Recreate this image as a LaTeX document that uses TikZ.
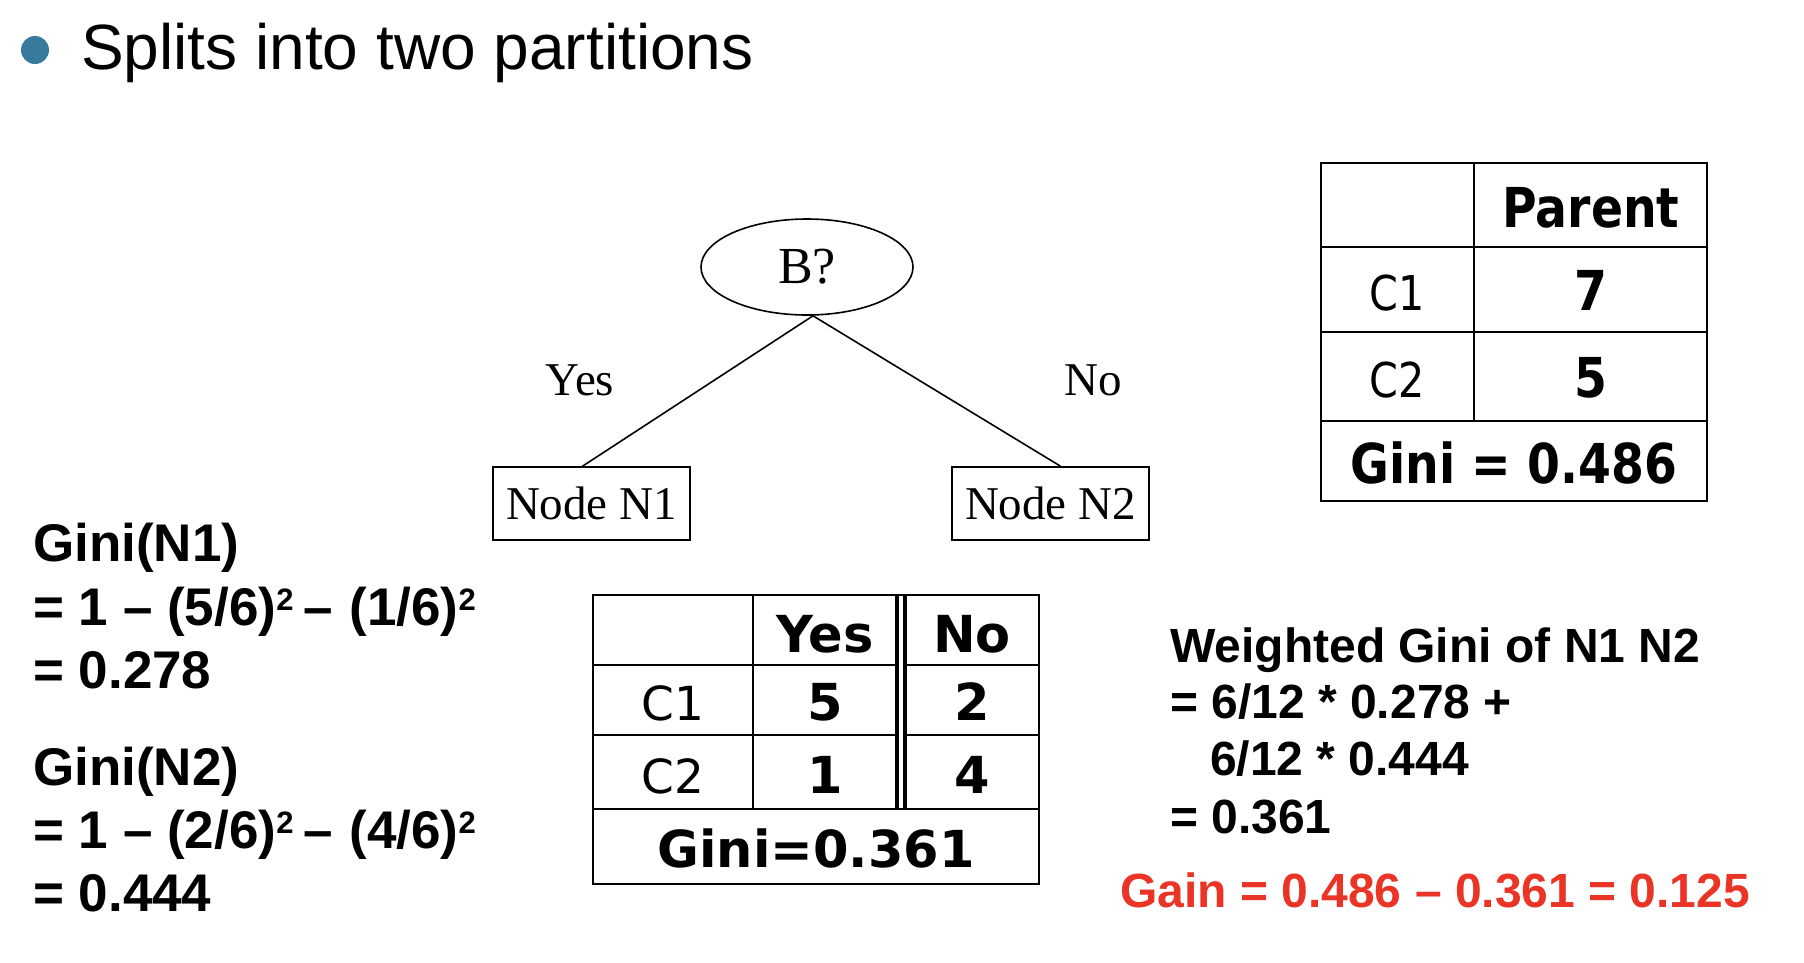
\documentclass[tikz,border=0pt]{standalone}
\usepackage{fontspec}
\usetikzlibrary{shapes.geometric}
\newfontfamily\arialf{Liberation Sans}
\newfontfamily\tnrf{Liberation Serif}
\newfontfamily\verdf{DejaVu Sans}
\newfontfamily\verdnf[FakeStretch=0.86]{DejaVu Sans}
\definecolor{bulletblue}{RGB}{55,122,156}
\definecolor{gainred}{RGB}{233,52,38}
\newcommand\sqtwo{\raisebox{15pt}{\fontsize{31}{31}\selectfont 2}}
\begin{document}
\begin{tikzpicture}[x=1pt,y=-1pt,
  tline/.style={line width=1.6pt},
  tabline/.style={line width=1.5pt},
  treetext/.style={font=\tnrf\fontsize{47}{47}\selectfont},
  heading/.style={font=\arialf\fontsize{64}{64}\selectfont, anchor=base west, inner sep=0},
  lefttext/.style={font=\arialf\bfseries\fontsize{53}{53}\selectfont, anchor=base west, inner sep=0},
  righttext/.style={font=\arialf\bfseries\fontsize{48}{48}\selectfont, anchor=base west, inner sep=0},
  ptabb/.style={font=\verdnf\bfseries\fontsize{55}{55}\selectfont, anchor=base, inner sep=0},
  ptabr/.style={font=\verdnf\fontsize{48}{48}\selectfont, anchor=base, inner sep=0},
  stabb/.style={font=\verdf\bfseries\fontsize{51}{51}\selectfont, anchor=base, inner sep=0},
  stabr/.style={font=\verdf\fontsize{47}{47}\selectfont, anchor=base, inner sep=0},
  leaf/.style={draw, tline, treetext, minimum width=197pt, minimum height=73pt, inner sep=0},
]
\useasboundingbox (0,0) rectangle (1804,962);
\fill[white] (0,0) rectangle (1804,962);

% heading
\fill[bulletblue] (35,50) circle[radius=14];
\node[heading] (title) at (81,69) {Splits into two partitions};

% tree
\node[draw, tline, ellipse, minimum width=212pt, minimum height=96pt, inner sep=0, font=\tnrf\fontsize{52}{52}\selectfont] (B) at (807,267) {B?};
\node[leaf] (N1) at (591.5,503.5) {Node N1};
\node[leaf] (N2) at (1050.5,503.5) {Node N2};
\draw[tline] ([xshift=6pt]B.south) -- ([xshift=-9pt]N1.north);
\draw[tline] ([xshift=6pt]B.south) -- ([xshift=10pt]N2.north);
\node[treetext, anchor=base, inner sep=0] (yes) at (580,395) {Yes};
\node[treetext, anchor=base, inner sep=0] (no) at (1093,395) {No};

% parent table
\draw[tabline] (1321,163) rectangle (1707,501);
\draw[tabline] (1321,247) -- (1707,247);
\draw[tabline] (1321,332) -- (1707,332);
\draw[tabline] (1321,421) -- (1707,421);
\draw[tabline] (1474,163) -- (1474,421);
\node[ptabb] (ph) at (1591,227) {Parent};
\node[ptabr] (pc1) at (1397,310) {C1};
\node[ptabb] (p7) at (1591,310) {7};
\node[ptabr] (pc2) at (1397,397) {C2};
\node[ptabb] (p5) at (1591,397) {5};
\node[ptabb] (pg) at (1514,483) {Gini = 0.486};

% split table
\draw[tabline] (593,595) rectangle (1039,884);
\draw[tabline] (593,665) -- (895,665);
\draw[tabline] (907,665) -- (1039,665);
\draw[tabline] (593,735) -- (895,735);
\draw[tabline] (907,735) -- (1039,735);
\draw[tabline] (593,809) -- (1039,809);
\draw[tabline] (753,595) -- (753,809);
\draw[line width=4pt] (897,595) -- (897,809);
\draw[line width=4pt] (905,595) -- (905,809);
\node[stabb] (sy) at (825,652) {Yes};
\node[stabb] (sn) at (972,652) {No};
\node[stabr] (sc1) at (673,720) {C1};
\node[stabb] (s5) at (825,720) {5};
\node[stabb] (s2) at (972,720) {2};
\node[stabr] (sc2) at (673,793) {C2};
\node[stabb] (s1) at (825,793) {1};
\node[stabb] (s4) at (972,793) {4};
\node[stabb] (sg) at (816,867) {Gini=0.361};

% left computations
\node[lefttext] (g1) at (33,561) {Gini(N1)};
\node[lefttext] (g1a) at (33,625) {= 1 – (5/6)\sqtwo\hspace{10pt}–\hspace{2pt} (1/6)\sqtwo};
\node[lefttext] (g1b) at (33,688) {= 0.278};
\node[lefttext] (g2) at (33,785) {Gini(N2)};
\node[lefttext] (g2a) at (33,848) {= 1 – (2/6)\sqtwo\hspace{10pt}–\hspace{2pt} (4/6)\sqtwo};
\node[lefttext] (g2b) at (33,911) {= 0.444};

% right computations
\node[righttext] (w0) at (1170,662) {Weighted Gini of N1 N2};
\node[righttext] (w1) at (1170,718) {= 6/12 * 0.278 +};
\node[righttext] (w2) at (1210,775) {6/12 * 0.444};
\node[righttext] (w3) at (1170,833) {= 0.361};
\node[righttext, text=gainred] (gain) at (1120,907) {Gain = 0.486 – 0.361 = 0.125};
\end{tikzpicture}
\end{document}
